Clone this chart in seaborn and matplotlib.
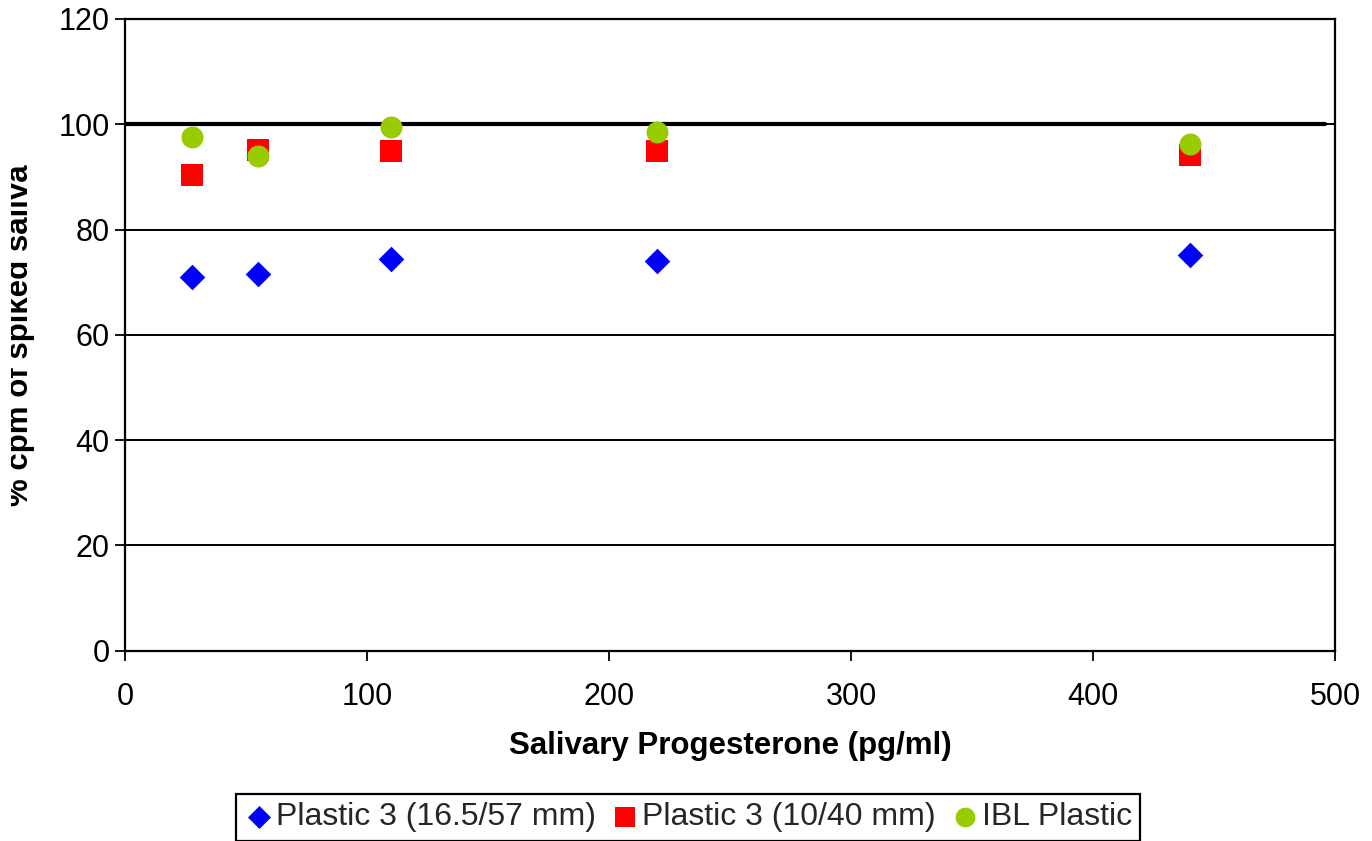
import matplotlib
matplotlib.use("Agg")
import matplotlib.pyplot as plt
import seaborn as sns
import pandas as pd
from matplotlib.patches import Rectangle

# Spiked-saliva recovery by collection device
progesterone = [27.5, 55, 110, 220, 440]
plastic3_large = [70.9, 71.6, 74.3, 74.0, 75.1]
plastic3_small = [90.3, 95.2, 94.9, 94.9, 94.2]
ibl_plastic = [97.5, 94.0, 99.5, 98.5, 96.2]
series_names = ["Plastic 3 (16.5/57 mm)", "Plastic 3 (10/40 mm)", "IBL Plastic"]

# 100 % reference line
reference_x = [0, 496]
reference_y = [100, 100]

x_ticks = [0, 100, 200, 300, 400, 500]
y_ticks = [0, 20, 40, 60, 80, 100, 120]

sns.set_theme(style="white")
plt.rcParams["font.family"] = ["Liberation Sans", "DejaVu Sans"]

W, H = 1372, 841
fig = plt.figure(figsize=(W / 100, H / 100), dpi=100)
ax = fig.add_axes([125 / W, 1 - 650.5 / H, 1210 / W, 631.5 / H])

# horizontal grid in black, under the markers
ax.yaxis.grid(True, color="black", linewidth=1.4)
ax.xaxis.grid(False)
ax.set_axisbelow(True)

sns.lineplot(x=reference_x, y=reference_y, color="black", linewidth=3.0, ax=ax, zorder=2)

styles = [
    dict(marker="D", color="#0000FF", s=170),
    dict(marker="s", color="#FF0000", s=245),
    dict(marker="o", color="#99CC00", s=250),
]
values = [plastic3_large, plastic3_small, ibl_plastic]
for name, vals, st in zip(series_names, values, styles):
    df = pd.DataFrame({"x": progesterone, "y": vals})
    sns.scatterplot(data=df, x="x", y="y", marker=st["marker"], color=st["color"],
                    s=st["s"], linewidth=0, label=name, ax=ax, zorder=3)

handles, labels = ax.get_legend_handles_labels()
if ax.get_legend() is not None:
    ax.get_legend().remove()
keep = [i for i, l in enumerate(labels) if l in series_names]
handles = [handles[i] for i in keep]
labels = [labels[i] for i in keep]

ax.set_xlim(0, 500)
ax.set_ylim(0, 120)
ax.set_xticks(x_ticks)
ax.set_yticks(y_ticks)

for sp in ax.spines.values():
    sp.set_visible(True)
    sp.set_color("black")
    sp.set_linewidth(1.6)

ax.tick_params(axis="both", which="major", direction="out", length=7, width=1.3,
               color="black", labelsize=22, labelcolor="black", bottom=True, left=True)
ax.tick_params(axis="x", pad=16)
ax.tick_params(axis="y", pad=4)

ax.set_xlabel("Salivary Progesterone (pg/ml)", fontsize=22.5, fontweight="bold", color="black")
ax.xaxis.set_label_coords(0.5, (650.5 - 731) / 631.5)
ax.set_ylabel("% cpm of spiked saliva", fontsize=22.5, fontweight="bold", color="black")
ax.yaxis.set_label_coords((35 - 125) / 1210, 0.5)

leg = fig.legend(handles, labels, loc="lower center", bbox_to_anchor=(688 / W, 0.5 / H),
                 ncol=3, frameon=True, fancybox=False, edgecolor="black", framealpha=1,
                 prop=dict(family=["Liberation Sans"], size=23),
                 handletextpad=0.05, columnspacing=0.45, handlelength=0.95, borderpad=0.26,
                 borderaxespad=0, markerscale=0.9)
leg.get_frame().set_linewidth(1.6)

# left margin trims the axis title
fig.patches.append(Rectangle((0, 0), 11 / W, 1, transform=fig.transFigure,
                             facecolor="white", edgecolor="none", zorder=10))

fig.savefig("out.png", dpi=100, facecolor="white")
